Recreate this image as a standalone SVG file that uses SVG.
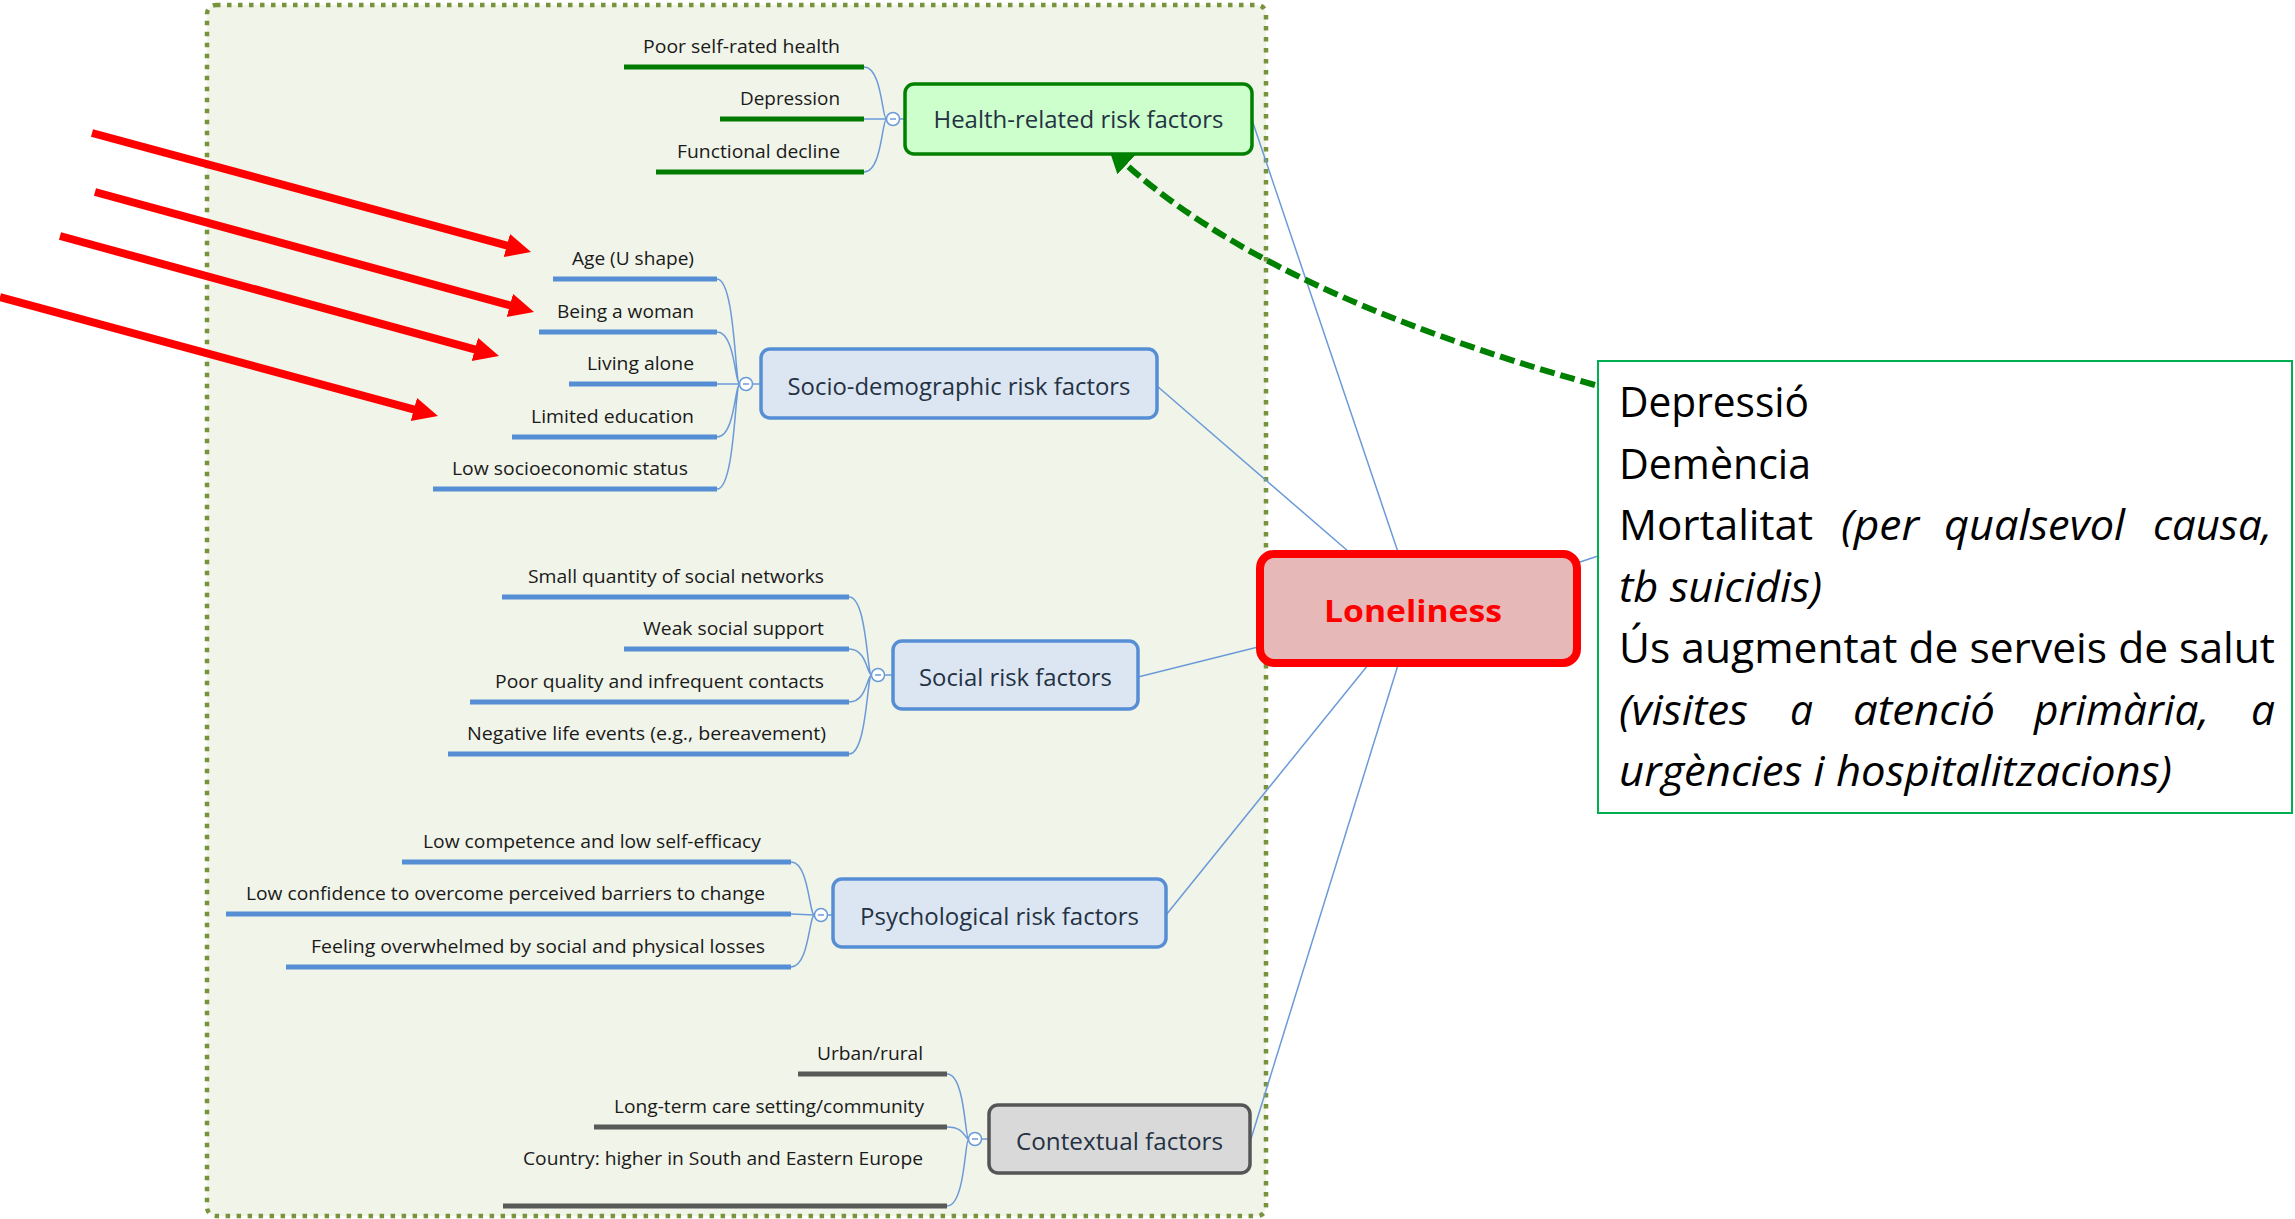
<svg xmlns="http://www.w3.org/2000/svg" width="2295" height="1219" viewBox="0 0 2295 1219">
<defs>
<style>
.leaf{font-family:"Open Sans","Liberation Sans",sans-serif;font-size:18px;fill:#1a1a1a}
.nt{font-family:"Open Sans","Liberation Sans",sans-serif;font-size:23px;fill:#243243;text-anchor:middle}
.bx{font-family:"Open Sans","Liberation Sans",sans-serif;font-size:42px;fill:#000}
.it{font-style:italic}
.bg{stroke:#007a00;stroke-width:5;fill:none}
.bb{stroke:#558ed5;stroke-width:5;fill:none}
.bk{stroke:#595959;stroke-width:5;fill:none}
.cv{stroke:#6b9ad8;stroke-width:1.5;fill:none}
.cc{fill:#fff;stroke:#6b9ad8;stroke-width:1.5}
.nb{fill:#dce6f2;stroke:#558ed5;stroke-width:3.5}
.red{stroke:#ff0000;stroke-width:8;fill:none}
</style>
<marker id="ra" markerUnits="userSpaceOnUse" markerWidth="30" markerHeight="26" refX="13" refY="12" orient="auto"><path d="M0,0 L25,12 L0,24 z" fill="#ff0000"/></marker>
<marker id="ga" markerUnits="userSpaceOnUse" markerWidth="30" markerHeight="30" refX="10" refY="13" orient="auto"><path d="M0,0 L24,13 L0,26 z" fill="#008000"/></marker>
</defs>
<rect x="0" y="0" width="2295" height="1219" fill="#fff"/>
<rect id="frame" x="207" y="5" width="1059" height="1211" rx="9" fill="#f1f4e9" stroke="#77933c" stroke-width="4.5" stroke-dasharray="4.5 6.5"/>

<g id="connectors">
<line class="cv" x1="1252" y1="120" x2="1398" y2="552"/>
<line class="cv" x1="1157" y1="386" x2="1349" y2="552"/>
<line class="cv" x1="1138" y1="677" x2="1258" y2="647"/>
<line class="cv" x1="1166" y1="915" x2="1368" y2="665"/>
<line class="cv" x1="1250" y1="1142" x2="1398" y2="665"/>
<line class="cv" x1="1577" y1="563" x2="1598" y2="556"/>
<path d="M1595,385 Q1262,292 1119,158" fill="none" stroke="#008000" stroke-width="6" stroke-dasharray="15 6" marker-end="url(#ga)"/>
<line class="red" x1="92" y1="133" x2="519.4" y2="248.9" marker-end="url(#ra)"/>
<line class="red" x1="95" y1="192" x2="522.4" y2="308.8" marker-end="url(#ra)"/>
<line class="red" x1="60" y1="236" x2="487.4" y2="352.8" marker-end="url(#ra)"/>
<line class="red" x1="0" y1="297" x2="426.4" y2="412.9" marker-end="url(#ra)"/>
</g>

<g id="health">
<path class="cv" d="M864,67 C882,67 882,119 886.5,119 M864,119 L886.5,119 M864,172 C882,172 882,119 886.5,119 M899.5,119 L905,119"/>
<line class="bg" x1="624" y1="67" x2="864" y2="67"/>
<line class="bg" x1="720" y1="119" x2="864" y2="119"/>
<line class="bg" x1="656" y1="172" x2="864" y2="172"/>
<text class="leaf" x="643" y="53" textLength="197" lengthAdjust="spacingAndGlyphs">Poor self-rated health</text>
<text class="leaf" x="740" y="105" textLength="100" lengthAdjust="spacingAndGlyphs">Depression</text>
<text class="leaf" x="677" y="158" textLength="163" lengthAdjust="spacingAndGlyphs">Functional decline</text>
<circle class="cc" cx="893" cy="119" r="6.5"/><line x1="890" y1="119" x2="896" y2="119" stroke="#6b9ad8" stroke-width="1.5"/>
<rect x="905" y="84" width="347" height="70" rx="9" fill="#ccffcc" stroke="#008000" stroke-width="3.5"/>
<text class="nt" x="1078.5" y="128" textLength="290" lengthAdjust="spacingAndGlyphs">Health-related risk factors</text>
</g>

<g id="sociodemographic">
<path class="cv" d="M717,279 C735,279 735,384 739.5,384 M717,332 C735,332 735,384 739.5,384 M717,384 L739.5,384 M717,437 C735,437 735,384 739.5,384 M717,489 C735,489 735,384 739.5,384 M752.5,384 L761,384"/>
<line class="bb" x1="553" y1="279" x2="717" y2="279"/>
<line class="bb" x1="539" y1="332" x2="717" y2="332"/>
<line class="bb" x1="569" y1="384" x2="717" y2="384"/>
<line class="bb" x1="512" y1="437" x2="717" y2="437"/>
<line class="bb" x1="433" y1="489" x2="717" y2="489"/>
<text class="leaf" x="572" y="265" textLength="122" lengthAdjust="spacingAndGlyphs">Age (U shape)</text>
<text class="leaf" x="557" y="318" textLength="137" lengthAdjust="spacingAndGlyphs">Being a woman</text>
<text class="leaf" x="587" y="370" textLength="107" lengthAdjust="spacingAndGlyphs">Living alone</text>
<text class="leaf" x="531" y="423" textLength="163" lengthAdjust="spacingAndGlyphs">Limited education</text>
<text class="leaf" x="452" y="475" textLength="236" lengthAdjust="spacingAndGlyphs">Low socioeconomic status</text>
<circle class="cc" cx="746" cy="384" r="6.5"/><line x1="743" y1="384" x2="749" y2="384" stroke="#6b9ad8" stroke-width="1.5"/>
<rect class="nb" x="761" y="349" width="396" height="69" rx="9"/>
<text class="nt" x="959" y="395" textLength="343" lengthAdjust="spacingAndGlyphs">Socio-demographic risk factors</text>
</g>

<g id="social">
<path class="cv" d="M849,597 C867,597 867,675 871.5,675 M849,649 C867,649 867,675 871.5,675 M849,702 C867,702 867,675 871.5,675 M849,754 C867,754 867,675 871.5,675 M884.5,675 L893,675"/>
<line class="bb" x1="502" y1="597" x2="849" y2="597"/>
<line class="bb" x1="624" y1="649" x2="849" y2="649"/>
<line class="bb" x1="470" y1="702" x2="849" y2="702"/>
<line class="bb" x1="448" y1="754" x2="849" y2="754"/>
<text class="leaf" x="528" y="583" textLength="296" lengthAdjust="spacingAndGlyphs">Small quantity of social networks</text>
<text class="leaf" x="643" y="635" textLength="181" lengthAdjust="spacingAndGlyphs">Weak social support</text>
<text class="leaf" x="495" y="688" textLength="329" lengthAdjust="spacingAndGlyphs">Poor quality and infrequent contacts</text>
<text class="leaf" x="467" y="740" textLength="359" lengthAdjust="spacingAndGlyphs">Negative life events (e.g., bereavement)</text>
<circle class="cc" cx="878" cy="675" r="6.5"/><line x1="875" y1="675" x2="881" y2="675" stroke="#6b9ad8" stroke-width="1.5"/>
<rect class="nb" x="893" y="641" width="245" height="68" rx="9"/>
<text class="nt" x="1015.5" y="686" textLength="193" lengthAdjust="spacingAndGlyphs">Social risk factors</text>
</g>

<g id="psychological">
<path class="cv" d="M791,862 C809,862 809,915 814.5,915 M791,914 L814.5,915 M791,967 C809,967 809,915 814.5,915 M827.5,915 L833,915"/>
<line class="bb" x1="402" y1="862" x2="791" y2="862"/>
<line class="bb" x1="226" y1="914" x2="791" y2="914"/>
<line class="bb" x1="286" y1="967" x2="791" y2="967"/>
<text class="leaf" x="423" y="848" textLength="338" lengthAdjust="spacingAndGlyphs">Low competence and low self-efficacy</text>
<text class="leaf" x="246" y="900" textLength="519" lengthAdjust="spacingAndGlyphs">Low confidence to overcome perceived barriers to change</text>
<text class="leaf" x="311" y="953" textLength="454" lengthAdjust="spacingAndGlyphs">Feeling overwhelmed by social and physical losses</text>
<circle class="cc" cx="821" cy="915" r="6.5"/><line x1="818" y1="915" x2="824" y2="915" stroke="#6b9ad8" stroke-width="1.5"/>
<rect class="nb" x="833" y="879" width="333" height="68" rx="9"/>
<text class="nt" x="999.5" y="925" textLength="279" lengthAdjust="spacingAndGlyphs">Psychological risk factors</text>
</g>

<g id="contextual">
<path class="cv" d="M947,1074 C965,1074 965,1139 968.5,1139 M947,1127 C965,1127 965,1139 968.5,1139 M947,1206 C965,1206 965,1139 968.5,1139 M981.5,1139 L989,1139"/>
<line class="bk" x1="798" y1="1074" x2="947" y2="1074"/>
<line class="bk" x1="594" y1="1127" x2="947" y2="1127"/>
<line class="bk" x1="503" y1="1206" x2="947" y2="1206"/>
<text class="leaf" x="817" y="1060" textLength="106" lengthAdjust="spacingAndGlyphs">Urban/rural</text>
<text class="leaf" x="614" y="1113" textLength="310" lengthAdjust="spacingAndGlyphs">Long-term care setting/community</text>
<text class="leaf" x="523" y="1165" textLength="400" lengthAdjust="spacingAndGlyphs">Country: higher in South and Eastern Europe</text>
<circle class="cc" cx="975" cy="1139" r="6.5"/><line x1="972" y1="1139" x2="978" y2="1139" stroke="#6b9ad8" stroke-width="1.5"/>
<rect x="989" y="1105" width="261" height="68" rx="9" fill="#d9d9d9" stroke="#555" stroke-width="3.5"/>
<text class="nt" x="1119.5" y="1150" textLength="207" lengthAdjust="spacingAndGlyphs">Contextual factors</text>
</g>

<g id="loneliness">
<rect x="1260" y="554" width="317" height="109" rx="14" fill="#e6b8b8" stroke="#ff0000" stroke-width="8"/>
<text x="1413" y="622" text-anchor="middle" font-family="'Open Sans','Liberation Sans',sans-serif" font-size="31" font-weight="bold" fill="#ff0000" textLength="178" lengthAdjust="spacingAndGlyphs">Loneliness</text>
</g>

<g id="consequences">
<rect x="1598" y="361" width="694" height="452" fill="#fff" stroke="#00b050" stroke-width="2"/>
<text class="bx" x="1619" y="417" textLength="190" lengthAdjust="spacingAndGlyphs">Depressió</text>
<text class="bx" x="1619" y="479" textLength="192" lengthAdjust="spacingAndGlyphs">Demència</text>
<text class="bx" x="1619" y="540" textLength="194" lengthAdjust="spacingAndGlyphs">Mortalitat</text>
<text class="bx it" x="1841" y="540" textLength="78" lengthAdjust="spacingAndGlyphs">(per</text>
<text class="bx it" x="1944" y="540" textLength="181" lengthAdjust="spacingAndGlyphs">qualsevol</text>
<text class="bx it" x="2153" y="540" textLength="119" lengthAdjust="spacingAndGlyphs">causa,</text>
<text class="bx it" x="1619" y="602" textLength="203" lengthAdjust="spacingAndGlyphs">tb suicidis)</text>
<text class="bx" x="1619" y="663" textLength="656" lengthAdjust="spacingAndGlyphs">Ús augmentat de serveis de salut</text>
<text class="bx it" x="1619" y="725" textLength="129" lengthAdjust="spacingAndGlyphs">(visites</text>
<text class="bx it" x="1790" y="725" textLength="23" lengthAdjust="spacingAndGlyphs">a</text>
<text class="bx it" x="1853" y="725" textLength="142" lengthAdjust="spacingAndGlyphs">atenció</text>
<text class="bx it" x="2034" y="725" textLength="175" lengthAdjust="spacingAndGlyphs">primària,</text>
<text class="bx it" x="2251" y="725" textLength="24" lengthAdjust="spacingAndGlyphs">a</text>
<text class="bx it" x="1619" y="786" textLength="553" lengthAdjust="spacingAndGlyphs">urgències i hospitalitzacions)</text>
</g>
</svg>
